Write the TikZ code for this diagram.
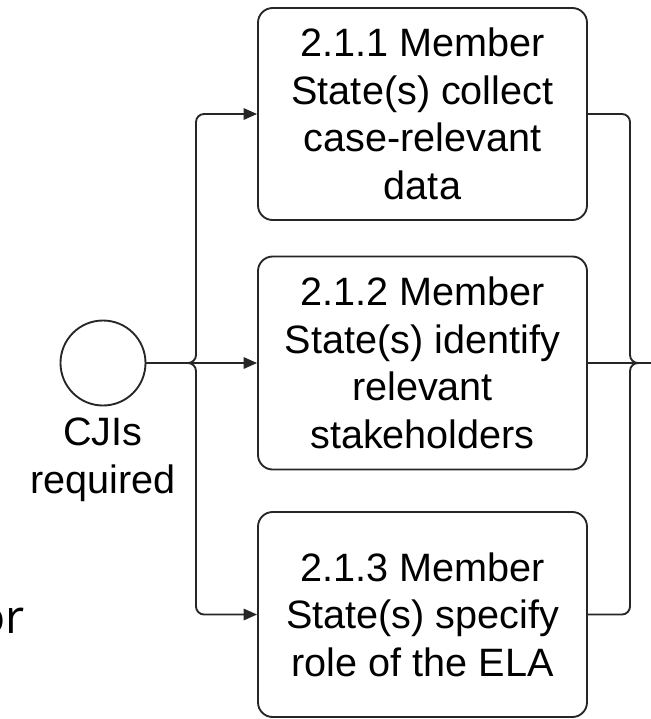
\documentclass[tikz,border=0pt]{standalone}
\usepackage{fontspec}
\setmainfont{Liberation Sans}
\newfontfamily\orfont{Open Sans}
\usetikzlibrary{arrows.meta}

\begin{document}
\begin{tikzpicture}[x=0.75pt,y=-0.75pt,
    task/.style={draw=black!85,line width=1.4pt,rounded corners=11pt,
      minimum width=246.75pt,minimum height=159pt,inner sep=0pt,
      align=center,font=\fontsize{29.7pt}{35.6pt}\selectfont},
    event/.style={draw=black!85,line width=1.4pt,circle,minimum size=63.75pt,inner sep=0pt},
    lbl/.style={align=center,inner sep=0pt,font=\fontsize{29.7pt}{35.6pt}\selectfont},
    flow/.style={draw=black!85,line width=1.4pt,rounded corners=6pt,
      -{Triangle[length=10pt,width=8.5pt]}}]
    \useasboundingbox (0,0) rectangle (651,719);

    \node[event] (start) at (103,363) {};
    \node[lbl] (startlbl) at (103,460) {CJIs\\required};

    \node[task] (collect) at (422.5,114) {2.1.1 Member\\State(s) collect\\case-relevant\\data};
    \node[task,minimum height=159.75pt] (identify) at (422.5,363) {2.1.2 Member\\State(s) identify\\relevant\\stakeholders};
    \node[task,minimum height=153.75pt] (specify) at (422.5,614.5) {2.1.3 Member\\State(s) specify\\role of the ELA};

    \node[anchor=base east,inner sep=0pt,font=\orfont\fontsize{35pt}{42pt}\selectfont] (ortext) at (25,633) {or};

    \coordinate (split) at (196,363);
    \coordinate (merge) at (630,363);
    \coordinate (sink) at (668,363);

    \draw[flow] (start.east) -- (identify.west);
    \draw[flow] (start.east) -- (split) |- (collect.west);
    \draw[flow] (start.east) -- (split) |- (specify.west);

    \draw[flow] (collect.east) -| (merge) -- (sink);
    \draw[flow] (identify.east) -- (sink);
    \draw[flow] (specify.east) -| (merge) -- (sink);
\end{tikzpicture}
\end{document}
